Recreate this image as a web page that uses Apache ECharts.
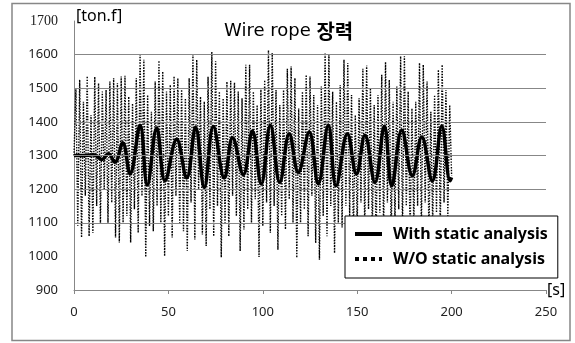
<!DOCTYPE html>
<html>
<head>
<meta charset="utf-8">
<script src="https://cdn.jsdelivr.net/npm/echarts@6/dist/echarts.min.js"></script>
<style>
  html, body { margin: 0; padding: 0; background: #fff; }
  #ropeChart { width: 575px; height: 343px; }
</style>
</head>
<body>
<div id="ropeChart"></div>
<script>
// time [s] and tension [ton.f]
const withTime = [0, 5, 10, 12, 14.7, 18.2, 21.7, 25.8, 29.7, 35, 38.8, 43.8, 48.2, 54.4, 59.7, 64.4, 69, 73.8, 79.6, 84, 89.7, 94.5, 99.2, 104, 109, 114, 118.8, 124.6, 129.4, 134.7, 138.8, 144.8, 149.6, 154.1, 159.4, 164.4, 168.3, 173.6, 179.2, 184.2, 189.8, 194.8, 199.2, 200]
const withValue = [1300, 1300, 1302, 1298, 1288, 1305, 1280, 1338, 1245, 1390, 1212, 1382, 1225, 1348, 1233, 1384, 1205, 1386, 1233, 1353, 1243, 1373, 1215, 1390, 1220, 1365, 1250, 1370, 1216, 1390, 1210, 1365, 1245, 1360, 1220, 1387, 1210, 1375, 1240, 1355, 1225, 1387, 1225, 1235]

// W/O static analysis, one value per second from 0 s to 200 s
const woValue = [
  1300, 1500, 1090, 1525, 1056, 1460, 1180, 1536, 1060, 1420,
  1070, 1534, 1150, 1515, 1097, 1490, 1200, 1495, 1100, 1520,
  1160, 1530, 1056, 1515, 1041, 1535, 1100, 1537, 1120, 1475,
  1041, 1455, 1140, 1530, 1070, 1604, 1180, 1585, 998, 1480,
  1090, 1430, 1075, 1520, 1150, 1582, 1100, 1550, 1001, 1490,
  1120, 1510, 1056, 1536, 1180, 1530, 1100, 1500, 1075, 1470,
  1016, 1530, 1160, 1600, 1050, 1585, 1200, 1475, 1065, 1460,
  1031, 1534, 1140, 1608, 1060, 1580, 1150, 1490, 997, 1470,
  1100, 1520, 1060, 1522, 1180, 1517, 1120, 1490, 1016, 1470,
  1080, 1570, 1140, 1570, 1100, 1490, 1170, 1450, 998, 1500,
  1090, 1524, 1160, 1613, 1070, 1605, 1150, 1495, 1020, 1450,
  1120, 1495, 1080, 1558, 1170, 1565, 1100, 1530, 996, 1440,
  1100, 1490, 1140, 1540, 1060, 1535, 1180, 1480, 1040, 1450,
  990, 1505, 1120, 1605, 1060, 1600, 1150, 1490, 1010, 1460,
  1100, 1510, 1086, 1585, 1150, 1575, 1120, 1480, 1060, 1420,
  1090, 1470, 1160, 1558, 1080, 1568, 1140, 1500, 1070, 1450,
  1040, 1480, 1130, 1540, 1070, 1578, 1160, 1525, 1050, 1460,
  1100, 1505, 1140, 1595, 1080, 1595, 1150, 1490, 1060, 1440,
  1090, 1460, 1150, 1575, 1080, 1570, 1160, 1520, 1060, 1430,
  1090, 1480, 1130, 1555, 1080, 1570, 1160, 1495, 1120, 1450,
  1240
]

const xTicks = { min: 0, max: 250, interval: 50 }
const yTicks = { min: 900, max: 1700, interval: 100 }
const gridLevels = [1100, 1200, 1300, 1400, 1500, 1600]
const seriesNames = ['With static analysis', 'W/O static analysis']

const gray = '#878787'
const font = 'Noto Sans'
const noSymbol = { color: 'transparent', borderColor: 'transparent', borderWidth: 0, opacity: 0 }

let myChart = echarts.init(document.getElementById('ropeChart'))
myChart.setOption({
  animation: false,
  textStyle: { fontFamily: font },
  title: {
    text: '{a|Wire rope }{b|장력}',
    left: 219,
    top: 16,
    textStyle: {
      rich: {
        a: { fontFamily: 'DejaVu Sans', fontSize: 18, fontWeight: 'normal', color: '#000' },
        b: { fontFamily: 'Noto Sans CJK KR', fontSize: 20, fontWeight: 'bold', color: '#000' }
      }
    }
  },
  grid: {
    left: 74,
    right: 29,
    top: 21,
    bottom: 53
  },
  legend: {
    show: true,
    orient: 'vertical',
    left: 345,
    top: 216,
    padding: [10, 10, 11, 8],
    itemGap: 9,
    itemWidth: 27,
    itemHeight: 17,
    borderColor: '#000',
    borderWidth: 1,
    backgroundColor: '#fff',
    z: 10,
    textStyle: { fontFamily: font, fontSize: 16, fontWeight: 'bold', color: '#000', padding: [0, 0, 0, 6] },
    data: [
      { name: seriesNames[0], itemStyle: noSymbol, lineStyle: { width: 4, color: '#000', type: 'solid' } },
      { name: seriesNames[1], itemStyle: noSymbol, lineStyle: { width: 4, color: '#000', type: 'dotted' } }
    ]
  },
  xAxis: {
    type: 'value',
    min: xTicks.min,
    max: xTicks.max,
    interval: xTicks.interval,
    splitLine: { show: false },
    axisLine: { onZero: false, lineStyle: { color: gray, width: 1 } },
    axisTick: { show: true, length: 4, lineStyle: { color: gray } },
    axisLabel: { color: '#222', fontSize: 13, margin: 16, fontFamily: font }
  },
  yAxis: {
    type: 'value',
    min: yTicks.min,
    max: yTicks.max,
    interval: yTicks.interval,
    splitLine: { show: false },
    axisLine: { show: true, lineStyle: { color: gray, width: 1 } },
    axisTick: { show: false },
    axisLabel: {
      color: '#222',
      fontSize: 13,
      margin: 16,
      fontFamily: font,
      formatter: v => v === yTicks.max ? '{s|' + v + '}' : String(v),
      rich: { s: { fontFamily: 'Liberation Serif', fontSize: 14, color: '#222' } }
    }
  },
  graphic: [
    {
      type: 'rect',
      shape: { x: 12, y: 3.5, width: 558, height: 337 },
      style: { fill: 'none', stroke: gray, lineWidth: 1.5 },
      silent: true
    },
    {
      type: 'text',
      left: 76,
      top: 8,
      style: { text: '[ton.f]', font: '16px "Noto Sans"', fill: '#000' }
    },
    {
      type: 'text',
      left: 547,
      top: 282,
      style: { text: '[s]', font: '16px "Noto Sans"', fill: '#000' }
    }
  ],
  series: [
    {
      name: seriesNames[1],
      type: 'line',
      symbol: 'none',
      z: 2,
      lineStyle: { color: '#000', width: 1.4, type: [1.4, 1.4] },
      data: woValue.map((v, i) => [i, v]),
      markLine: {
        silent: true,
        symbol: 'none',
        label: { show: false },
        lineStyle: { color: gray, width: 1, type: 'solid' },
        data: gridLevels.map(v => ({ yAxis: v }))
      }
    },
    {
      name: seriesNames[0],
      type: 'line',
      symbol: 'none',
      smooth: 0.4,
      z: 3,
      lineStyle: { color: '#000', width: 3.5 },
      data: withTime.map((t, i) => [t, withValue[i]])
    }
  ]
})
</script>
</body>
</html>
